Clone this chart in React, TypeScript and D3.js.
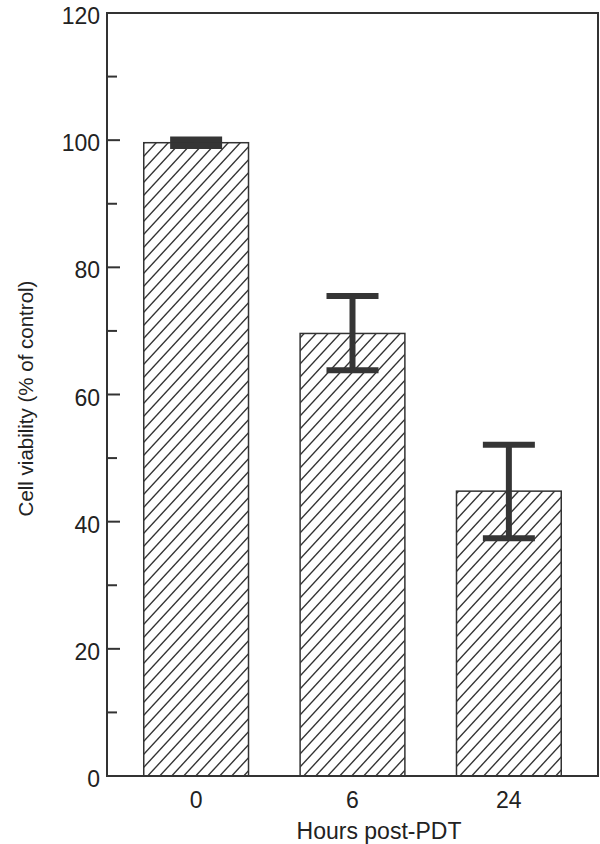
import React from 'react'
import * as d3 from 'd3'

// hours post-PDT, bar means and error bar ends (% of control)
const categories = ['0', '6', '24']
const means = [99.6, 69.6, 44.8]
const upper = [100.1, 75.5, 52.1]
const lower = [99.1, 63.8, 37.4]
const majorTicks = [0, 20, 40, 60, 80, 100, 120]
const minorTicks = [10, 30, 50, 70, 90, 110]

const W = 600
const H = 844
const margin = { left: 107, right: 2, top: 13, bottom: 68 }
const ink = '#333'
const font = 'Liberation Sans, Arial, sans-serif'

const App = () => {
  const x = d3
    .scaleBand()
    .domain(categories)
    .range([margin.left, W - margin.right])
    .paddingInner(0.33)
    .paddingOuter(0.235)
  const y = d3
    .scaleLinear()
    .domain([0, 120])
    .range([H - margin.bottom, margin.top])

  const x0 = margin.left
  const x1 = W - margin.right
  const y0 = y(0)
  const yTop = y(120)
  const capW = 52

  return (
    <svg
      width={W}
      height={H}
      style={{ position: 'absolute', left: 0, top: 0 }}
      fontFamily={font}
    >
      <defs>
        <pattern id="hatch" patternUnits="userSpaceOnUse" width="12" height="13">
          <line x1={-1} y1={14.1} x2={13} y2={-1.1} stroke={ink} strokeWidth="1.4" />
          <line x1={-13} y1={14.1} x2={1} y2={-1.1} stroke={ink} strokeWidth="1.4" />
          <line x1={11} y1={14.1} x2={25} y2={-1.1} stroke={ink} strokeWidth="1.4" />
        </pattern>
      </defs>
      <rect width={W} height={H} fill="#fff" />

      {categories.map((c, i) => (
        <rect
          key={c}
          x={x(c)}
          y={y(means[i])}
          width={x.bandwidth()}
          height={y0 - y(means[i])}
          fill="url(#hatch)"
          stroke={ink}
          strokeWidth="1.5"
        />
      ))}

      {categories.map((c, i) => {
        const cx = (x(c) as number) + x.bandwidth() / 2
        return (
          <g key={'e' + c} stroke="#353535" strokeWidth="6">
            <line x1={cx} x2={cx} y1={y(upper[i])} y2={y(lower[i])} />
            <line x1={cx - capW / 2} x2={cx + capW / 2} y1={y(upper[i])} y2={y(upper[i])} />
            <line x1={cx - capW / 2} x2={cx + capW / 2} y1={y(lower[i])} y2={y(lower[i])} />
          </g>
        )
      })}

      <rect
        x={x0}
        y={yTop}
        width={x1 - x0}
        height={y0 - yTop}
        fill="none"
        stroke={ink}
        strokeWidth="2"
      />

      {majorTicks.map((t) => (
        <g key={'M' + t}>
          <line x1={x0} x2={x0 + 13} y1={y(t)} y2={y(t)} stroke={ink} strokeWidth="2" />
          <text x={100} y={y(t) + 3} dy="0.35em" textAnchor="end" fontSize="23" fill="#222">
            {t}
          </text>
        </g>
      ))}
      {minorTicks.map((t) => (
        <line key={'m' + t} x1={x0} x2={x0 + 10} y1={y(t)} y2={y(t)} stroke={ink} strokeWidth="2" />
      ))}

      {categories.map((c) => (
        <text
          key={'l' + c}
          x={(x(c) as number) + x.bandwidth() / 2}
          y={808}
          textAnchor="middle"
          fontSize="23"
          fill="#222"
        >
          {c}
        </text>
      ))}

      <text x={379} y={839} textAnchor="middle" fontSize="23" fill="#222">
        Hours post-PDT
      </text>
      <text
        transform={`translate(33, ${(y0 + yTop) / 2 + 4}) rotate(-90)`}
        textAnchor="middle"
        fontSize="20.5"
        fill="#222"
      >
        Cell viability (% of control)
      </text>
    </svg>
  )
}

export default App
